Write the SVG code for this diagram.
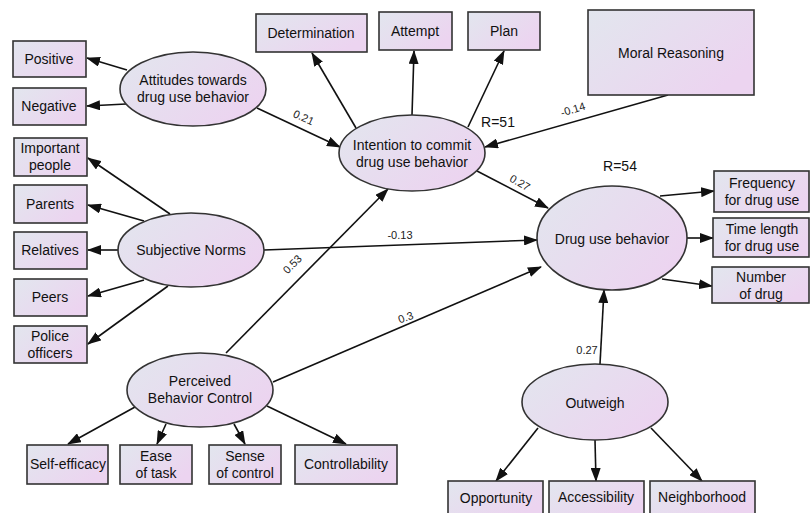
<svg xmlns="http://www.w3.org/2000/svg" width="810" height="513" viewBox="0 0 810 513">
<defs>
<linearGradient id="g" x1="0" y1="0" x2="1" y2="0.6">
<stop offset="0" stop-color="#e2e6ee"/>
<stop offset="1" stop-color="#ecd4f0"/>
</linearGradient>
<marker id="ah" markerUnits="userSpaceOnUse" markerWidth="14" markerHeight="10" refX="13" refY="5" orient="auto">
<path d="M0,0 L14,5 L0,10 Z" fill="#111"/>
</marker>
<style>
.n rect,.n ellipse{fill:url(#g);stroke:#333;stroke-width:1.6}
.t{font-family:"Liberation Sans",Arial,sans-serif;font-size:14px;fill:#111;text-anchor:middle}
.l{font-family:"Liberation Sans",Arial,sans-serif;font-size:11px;fill:#222;text-anchor:middle}
.r{font-family:"Liberation Sans",Arial,sans-serif;font-size:14px;fill:#111;text-anchor:middle}
#edges line{stroke:#111;stroke-width:1.6;marker-end:url(#ah)}
</style>
</defs>
<rect width="810" height="513" fill="#fff"/>

<g id="edges">
<line x1="127" y1="70" x2="87" y2="58"/>
<line x1="126" y1="104" x2="87" y2="106"/>
<line x1="257" y1="108" x2="340" y2="147"/>
<line x1="170" y1="214" x2="88" y2="158"/>
<line x1="144" y1="221" x2="88" y2="205"/>
<line x1="118" y1="250" x2="88" y2="250"/>
<line x1="144" y1="280" x2="88" y2="296"/>
<line x1="168" y1="286" x2="88" y2="344"/>
<line x1="264" y1="250" x2="537" y2="240"/>
<line x1="226" y1="353" x2="388" y2="189"/>
<line x1="273" y1="382" x2="541" y2="267"/>
<line x1="135" y1="407" x2="68" y2="444"/>
<line x1="166" y1="424" x2="157" y2="444"/>
<line x1="234" y1="424" x2="245" y2="444"/>
<line x1="267" y1="406" x2="346" y2="444"/>
<line x1="356" y1="128" x2="312" y2="53"/>
<line x1="412" y1="115" x2="414" y2="51"/>
<line x1="468" y1="127" x2="504" y2="51"/>
<line x1="668" y1="95" x2="485" y2="147"/>
<line x1="477" y1="171" x2="548" y2="208"/>
<line x1="660" y1="196" x2="714" y2="191"/>
<line x1="687" y1="238" x2="713" y2="238"/>
<line x1="662" y1="279" x2="712" y2="286"/>
<line x1="600" y1="364" x2="604" y2="290"/>
<line x1="538" y1="428" x2="496" y2="481"/>
<line x1="595" y1="440" x2="596" y2="481"/>
<line x1="651" y1="428" x2="702" y2="481"/>
</g>

<g id="edge-labels">
<text class="l" transform="translate(302,121) rotate(25)">0.21</text>
<text class="l" transform="translate(574,113) rotate(-17)">-0.14</text>
<text class="l" transform="translate(518,186) rotate(30)">0.27</text>
<text class="l" x="400" y="239">-0.13</text>
<text class="l" transform="translate(295,267) rotate(-45)">0.53</text>
<text class="l" transform="translate(407,321) rotate(-20)">0.3</text>
<text class="l" x="587" y="354">0.27</text>
<text class="r" x="498" y="127">R=51</text>
<text class="r" x="620" y="171">R=54</text>
</g>

<g id="positive" class="n"><rect x="13" y="41" width="73" height="36"/><text class="t" x="49" y="64">Positive</text></g>
<g id="negative" class="n"><rect x="13" y="88" width="73" height="37"/><text class="t" x="49" y="111">Negative</text></g>
<g id="important" class="n"><rect x="14" y="138" width="73" height="38"/><text class="t" x="50" y="153">Important</text><text class="t" x="50" y="170">people</text></g>
<g id="parents" class="n"><rect x="14" y="185" width="73" height="38"/><text class="t" x="50" y="209">Parents</text></g>
<g id="relatives" class="n"><rect x="14" y="232" width="73" height="37"/><text class="t" x="50" y="255">Relatives</text></g>
<g id="peers" class="n"><rect x="14" y="279" width="73" height="37"/><text class="t" x="50" y="302">Peers</text></g>
<g id="police" class="n"><rect x="14" y="326" width="73" height="37"/><text class="t" x="50" y="341">Police</text><text class="t" x="50" y="358">officers</text></g>

<g id="attitudes" class="n"><ellipse cx="193" cy="89" rx="73" ry="37"/><text class="t" x="193" y="85">Attitudes towards</text><text class="t" x="193" y="102">drug use behavior</text></g>
<g id="subjective" class="n"><ellipse cx="191" cy="250" rx="73" ry="37"/><text class="t" x="191" y="255">Subjective Norms</text></g>
<g id="pbc" class="n"><ellipse cx="200" cy="390" rx="73" ry="37"/><text class="t" x="200" y="386">Perceived</text><text class="t" x="200" y="403">Behavior Control</text></g>

<g id="selfefficacy" class="n"><rect x="27" y="445" width="81" height="39"/><text class="t" x="68" y="469">Self-efficacy</text></g>
<g id="ease" class="n"><rect x="120" y="445" width="72" height="39"/><text class="t" x="156" y="461">Ease</text><text class="t" x="156" y="478">of task</text></g>
<g id="sense" class="n"><rect x="209" y="445" width="72" height="39"/><text class="t" x="245" y="461">Sense</text><text class="t" x="245" y="478">of control</text></g>
<g id="controllability" class="n"><rect x="295" y="445" width="102" height="39"/><text class="t" x="346" y="469">Controllability</text></g>

<g id="intention" class="n"><ellipse cx="412" cy="153" rx="73" ry="38"/><text class="t" x="412" y="150">Intention to commit</text><text class="t" x="412" y="167">drug use behavior</text></g>
<g id="determination" class="n"><rect x="256" y="14" width="111" height="38"/><text class="t" x="311" y="38">Determination</text></g>
<g id="attempt" class="n"><rect x="379" y="12" width="73" height="38"/><text class="t" x="415" y="36">Attempt</text></g>
<g id="plan" class="n"><rect x="468" y="12" width="72" height="38"/><text class="t" x="504" y="36">Plan</text></g>
<g id="moral" class="n"><rect x="588" y="10" width="166" height="85"/><text class="t" x="671" y="58">Moral Reasoning</text></g>

<g id="dub" class="n"><ellipse cx="612" cy="238" rx="75" ry="52"/><text class="t" x="612" y="244">Drug use behavior</text></g>
<g id="frequency" class="n"><rect x="714" y="171" width="95" height="41"/><text class="t" x="762" y="188">Frequency</text><text class="t" x="762" y="205">for drug use</text></g>
<g id="timelength" class="n"><rect x="713" y="218" width="96" height="39"/><text class="t" x="762" y="234">Time length</text><text class="t" x="762" y="251">for drug use</text></g>
<g id="number" class="n"><rect x="712" y="267" width="97" height="36"/><text class="t" x="761" y="282">Number</text><text class="t" x="761" y="299">of drug</text></g>

<g id="outweigh" class="n"><ellipse cx="595" cy="402" rx="73" ry="38"/><text class="t" x="595" y="408">Outweigh</text></g>
<g id="opportunity" class="n"><rect x="448" y="481" width="95" height="34"/><text class="t" x="496" y="503">Opportunity</text></g>
<g id="accessibility" class="n"><rect x="549" y="481" width="95" height="34"/><text class="t" x="596" y="502">Accessibility</text></g>
<g id="neighborhood" class="n"><rect x="650" y="481" width="105" height="34"/><text class="t" x="702" y="502">Neighborhood</text></g>
</svg>
